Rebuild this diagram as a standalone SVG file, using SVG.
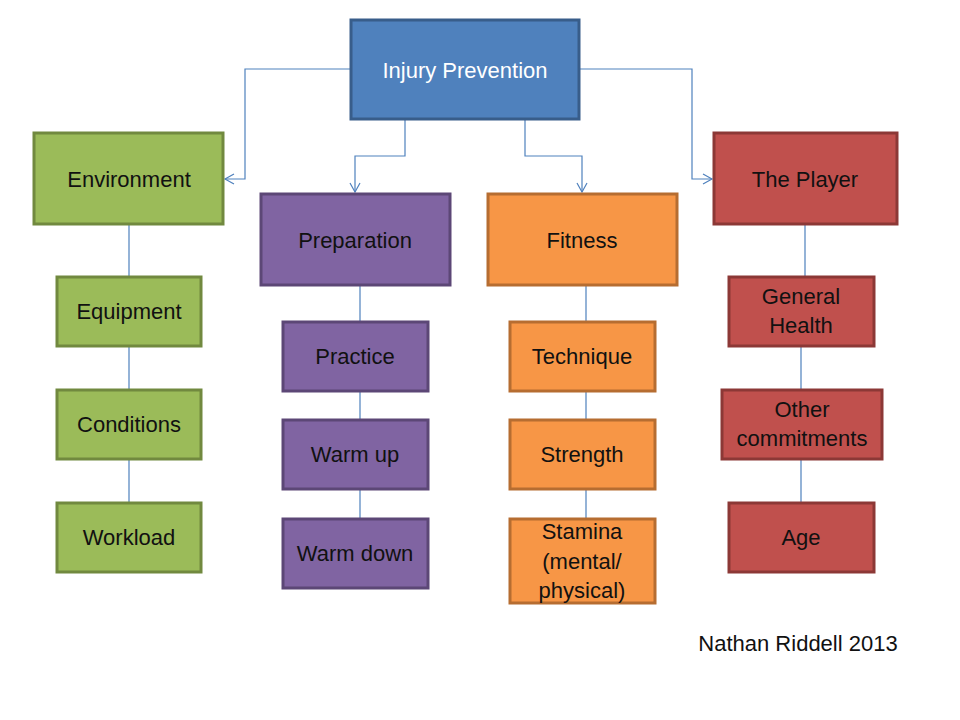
<svg xmlns="http://www.w3.org/2000/svg" width="960" height="720" viewBox="0 0 960 720">
<defs>
<marker id="arr" markerWidth="12" markerHeight="12" refX="10" refY="6" orient="auto" markerUnits="userSpaceOnUse">
<path d="M1,1 L10,6 L1,11" fill="none" stroke="#4F81BD" stroke-width="1.2"/>
</marker>
</defs>
<style>
text{font-family:"Liberation Sans","Open Sans",sans-serif;font-size:22px;fill:#111;text-anchor:middle;dominant-baseline:central}
.blue rect{fill:#4F81BD;stroke:#385D8A;stroke-width:3}
.green rect{fill:#9BBB59;stroke:#71893F;stroke-width:3}
.purple rect{fill:#8064A2;stroke:#5C4776;stroke-width:3}
.orange rect{fill:#F79646;stroke:#B66D31;stroke-width:3}
.red rect{fill:#C0504D;stroke:#8C3836;stroke-width:3}
.conn path{fill:none;stroke:#4F81BD;stroke-width:1.2}
</style>
<rect width="960" height="720" fill="#fff"/>
<g class="conn">
<path d="M351,69 H245 V179 H225" marker-end="url(#arr)"/>
<path d="M579,69 H692 V179 H712" marker-end="url(#arr)"/>
<path d="M405,119 V156 H355 V192" marker-end="url(#arr)"/>
<path d="M525,119 V156 H582 V192" marker-end="url(#arr)"/>
<path d="M129,224 V277 M129,346 V390 M129,459 V503"/>
<path d="M360,285 V322 M360,391 V420 M360,489 V519"/>
<path d="M586,285 V322 M586,391 V420 M586,489 V519"/>
<path d="M805,224 V277 M801,346 V390 M801,459 V503"/>
</g>
<g id="injury-prevention" class="blue"><rect x="351" y="20" width="228" height="99"/><text x="465" y="70" style="fill:#fff">Injury Prevention</text></g>
<g id="environment" class="green"><rect x="34" y="133" width="189" height="91"/><text x="129" y="179">Environment</text></g>
<g id="preparation" class="purple"><rect x="261" y="194" width="189" height="91"/><text x="355" y="240">Preparation</text></g>
<g id="fitness" class="orange"><rect x="488" y="194" width="189" height="91"/><text x="582" y="240">Fitness</text></g>
<g id="the-player" class="red"><rect x="714" y="133" width="183" height="91"/><text x="805" y="179">The Player</text></g>
<g id="equipment" class="green"><rect x="57" y="277" width="144" height="69"/><text x="129" y="311">Equipment</text></g>
<g id="conditions" class="green"><rect x="57" y="390" width="144" height="69"/><text x="129" y="424">Conditions</text></g>
<g id="workload" class="green"><rect x="57" y="503" width="144" height="69"/><text x="129" y="537">Workload</text></g>
<g id="practice" class="purple"><rect x="283" y="322" width="145" height="69"/><text x="355" y="356">Practice</text></g>
<g id="warm-up" class="purple"><rect x="283" y="420" width="145" height="69"/><text x="355" y="454">Warm up</text></g>
<g id="warm-down" class="purple"><rect x="283" y="519" width="145" height="69"/><text x="355" y="553">Warm down</text></g>
<g id="technique" class="orange"><rect x="510" y="322" width="145" height="69"/><text x="582" y="356">Technique</text></g>
<g id="strength" class="orange"><rect x="510" y="420" width="145" height="69"/><text x="582" y="454">Strength</text></g>
<g id="stamina" class="orange"><rect x="510" y="519" width="145" height="84"/><text x="582" y="531">Stamina</text><text x="582" y="561">(mental/</text><text x="582" y="590">physical)</text></g>
<g id="general-health" class="red"><rect x="729" y="277" width="145" height="69"/><text x="801" y="296">General</text><text x="801" y="325">Health</text></g>
<g id="other-commitments" class="red"><rect x="722" y="390" width="160" height="69"/><text x="802" y="409">Other</text><text x="802" y="438">commitments</text></g>
<g id="age" class="red"><rect x="729" y="503" width="145" height="69"/><text x="801" y="537">Age</text></g>
<text x="798" y="643">Nathan Riddell 2013</text>
</svg>
